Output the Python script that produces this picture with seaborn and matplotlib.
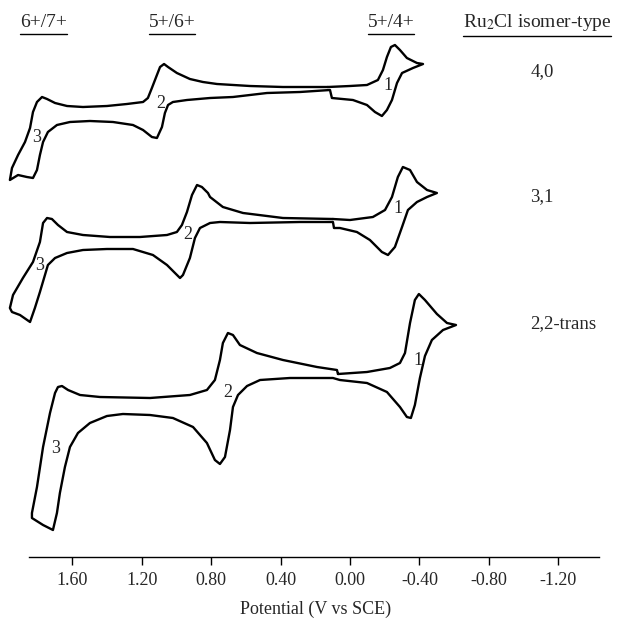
import matplotlib
matplotlib.use("Agg")
import matplotlib.pyplot as plt
import pandas as pd
import seaborn as sns
from matplotlib.lines import Line2D

# Potentials (V vs SCE) and currents (arbitrary units, traces stacked)
pot_40 = [0.127, 0.000, -0.098, -0.161, -0.190, -0.213, -0.236, -0.259, -0.288, -0.328,
          -0.386, -0.421, -0.363, -0.300, -0.271, -0.242, -0.213, -0.184, -0.144, -0.098,
          -0.017, 0.104, 0.115, 0.288, 0.478, 0.674, 0.806, 0.939, 1.020, 1.048,
          1.066, 1.083, 1.112, 1.141, 1.192, 1.250, 1.365, 1.498, 1.613, 1.688,
          1.740, 1.768, 1.786, 1.803, 1.826, 1.861, 1.912, 1.959, 1.947, 1.912,
          1.872, 1.843, 1.826, 1.803, 1.774, 1.745, 1.699, 1.630, 1.538, 1.400,
          1.285, 1.192, 1.164, 1.141, 1.112, 1.094, 1.071, 1.048, 0.997, 0.922,
          0.847, 0.766, 0.576, 0.386, 0.127]
cur_40 = [46.6, 46.7, 46.8, 47.3, 48.3, 49.6, 50.6, 50.8, 50.3, 49.5,
          49.0, 48.9, 48.5, 48.0, 47.0, 45.3, 44.3, 43.7, 44.1, 44.8,
          45.3, 45.5, 46.3, 46.1, 46.0, 45.6, 45.5, 45.3, 45.1, 44.8,
          44.0, 42.6, 41.5, 41.6, 42.3, 42.8, 43.1, 43.2, 43.1, 42.8,
          42.1, 41.1, 39.8, 38.3, 37.5, 37.6, 37.8, 37.3, 38.5, 39.8,
          41.1, 42.5, 44.1, 45.1, 45.6, 45.4, 45.0, 44.7, 44.6, 44.7,
          44.9, 45.1, 45.5, 46.5, 47.8, 48.6, 48.9, 48.6, 48.0, 47.4,
          47.1, 46.9, 46.7, 46.6, 46.6]

pot_31 = [0.098, 0.000, -0.132, -0.202, -0.242, -0.276, -0.305, -0.346, -0.386, -0.444,
          -0.501, -0.444, -0.386, -0.334, -0.300, -0.259, -0.219, -0.184, -0.115, -0.040,
          0.058, 0.092, 0.098, 0.288, 0.576, 0.749, 0.806, 0.864, 0.893, 0.922,
          0.962, 0.979, 1.008, 1.054, 1.135, 1.250, 1.400, 1.538, 1.630, 1.699,
          1.740, 1.757, 1.786, 1.815, 1.843, 1.901, 1.947, 1.959, 1.941, 1.884,
          1.826, 1.786, 1.768, 1.745, 1.717, 1.682, 1.630, 1.538, 1.383, 1.210,
          1.054, 0.997, 0.968, 0.939, 0.910, 0.881, 0.853, 0.818, 0.806, 0.732,
          0.616, 0.386, 0.098]
cur_31 = [33.4, 33.3, 33.6, 34.3, 35.6, 37.6, 38.6, 38.3, 37.1, 36.3,
          36.0, 35.6, 35.1, 34.3, 32.6, 30.6, 29.8, 30.1, 31.3, 32.1,
          32.5, 32.5, 33.1, 33.1, 33.0, 33.1, 33.0, 32.5, 31.5, 29.5,
          27.8, 27.5, 28.0, 28.8, 29.8, 30.4, 30.4, 30.3, 30.0, 29.5,
          28.8, 27.8, 26.1, 24.5, 23.1, 23.8, 24.1, 24.5, 25.8, 27.5,
          29.1, 31.1, 33.0, 33.5, 33.4, 32.8, 32.1, 31.8, 31.6, 31.6,
          31.8, 32.1, 32.8, 34.1, 35.8, 36.8, 36.6, 36.0, 35.6, 34.6,
          34.0, 33.5, 33.4]

pot_22 = [0.069, -0.098, -0.230, -0.288, -0.317, -0.346, -0.374, -0.397, -0.432, -0.501,
          -0.559, -0.611, -0.536, -0.472, -0.432, -0.403, -0.374, -0.351, -0.328, -0.288,
          -0.213, -0.098, 0.058, 0.098, 0.346, 0.518, 0.593, 0.645, 0.674, 0.691,
          0.720, 0.749, 0.778, 0.824, 0.904, 1.020, 1.152, 1.308, 1.400, 1.498,
          1.567, 1.613, 1.642, 1.671, 1.688, 1.711, 1.768, 1.832, 1.832, 1.803,
          1.768, 1.728, 1.699, 1.682, 1.659, 1.624, 1.555, 1.440, 1.152, 0.922,
          0.824, 0.778, 0.749, 0.732, 0.703, 0.674, 0.634, 0.536, 0.386, 0.190,
          0.075, 0.069]
cur_22 = [17.9, 18.1, 18.5, 19.0, 20.0, 23.0, 25.3, 25.9, 25.3, 23.9,
          23.0, 22.8, 22.3, 21.3, 19.7, 17.5, 14.8, 13.5, 13.6, 14.6,
          16.1, 17.0, 17.3, 17.5, 17.5, 17.3, 16.7, 15.8, 14.6, 12.3,
          9.6, 8.9, 9.3, 11.0, 12.6, 13.5, 13.8, 13.9, 13.7, 13.0,
          12.0, 10.6, 8.6, 6.0, 4.0, 2.3, 2.8, 3.5, 4.0, 6.6,
          10.6, 14.0, 16.0, 16.6, 16.7, 16.3, 15.8, 15.6, 15.5, 15.8,
          16.3, 17.3, 19.3, 21.0, 22.0, 21.8, 20.8, 20.0, 19.3, 18.6,
          18.3, 17.9]

isomers = ["4,0", "3,1", "2,2-trans"]
couples = ["6+/7+", "5+/6+", "5+/4+"]
tick_values = [1.60, 1.20, 0.80, 0.40, 0.00, -0.40, -0.80, -1.20]
tick_labels = ["1.60", "1.20", "0.80", "0.40", "0.00", "-0.40", "-0.80", "-1.20"]

# wave label spots (potential, current) for each trace: waves 3, 2, 1
wave_pos = {
    "4,0": [(1.803, 41.6), (1.089, 45.0), (-0.219, 46.8)],
    "3,1": [(1.786, 28.8), (0.933, 31.9), (-0.276, 34.5)],
    "2,2-trans": [(1.694, 10.5), (0.703, 16.1), (-0.392, 19.3)],
}

df = pd.concat([
    pd.DataFrame({"potential": p, "current": c, "isomer": name, "step": range(len(p))})
    for p, c, name in zip([pot_40, pot_31, pot_22], [cur_40, cur_31, cur_22], isomers)
])

sns.set_theme(style="white")
plt.rcParams["font.family"] = ["Liberation Serif", "DejaVu Serif"]
plt.rcParams["mathtext.fontset"] = "stix"

fig = plt.figure(figsize=(6.31, 6.22), dpi=100)
ax = fig.add_axes([0, 0.1045, 1, 0.8955])

sns.lineplot(data=df, x="potential", y="current", units="isomer", estimator=None,
             sort=False, color="black", lw=1.7, ax=ax)

for name in isomers:
    for num, (v, i) in zip(["3", "2", "1"], wave_pos[name]):
        ax.text(v, i, num, fontsize=13, ha="center", va="center")

label_y = {"4,0": 48.1, "3,1": 35.6, "2,2-trans": 22.9}
label_x = {"4,0": -1.106, "3,1": -1.106, "2,2-trans": -1.227}
for name in isomers:
    ax.text(label_x[name], label_y[name], name, fontsize=13.5, ha="center", va="center")

headers = [(1.763, couples[0]), (1.025, couples[1]), (-0.236, couples[2]),
           (-1.077, "Ru$_2$Cl isomer-type")]
head_texts = [ax.text(v, 53.1, t, fontsize=14, ha="center", va="center") for v, t in headers]

ax.set_xlim(2.016, -1.619)
ax.set_ylim(-0.4, 55.3)
ax.set_xticks(tick_values)
ax.set_xticklabels(tick_labels, fontsize=13)
ax.set_yticks([])
ax.set_xlabel("Potential (V vs SCE)", fontsize=13, labelpad=8)
ax.set_ylabel("")
ax.tick_params(axis="x", direction="out", length=6, width=1, color="black", pad=5, bottom=True)
for side in ["left", "top", "right"]:
    ax.spines[side].set_visible(False)
ax.spines["bottom"].set_bounds(1.849, -1.434)
ax.spines["bottom"].set_color("black")
ax.spines["bottom"].set_linewidth(1)
ax.set_facecolor("white")
fig.patch.set_facecolor("white")

# underline the column headers
fig.canvas.draw()
inv = fig.transFigure.inverted()
for t in head_texts:
    bb = t.get_window_extent().transformed(inv)
    fig.add_artist(Line2D([bb.x0, bb.x1], [bb.y0 - 0.006, bb.y0 - 0.006],
                          color="black", lw=1, transform=fig.transFigure))

fig.savefig("out.png", dpi=100)
